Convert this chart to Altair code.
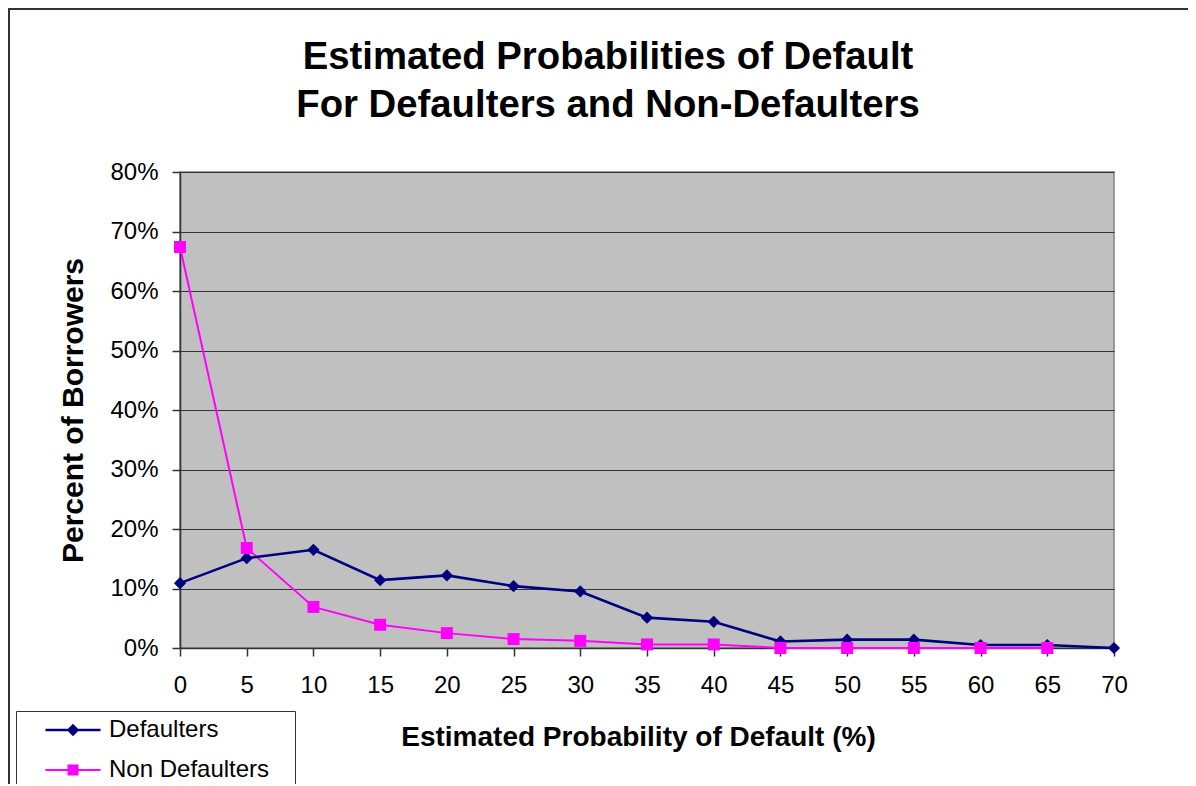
import altair as alt
import pandas as pd

# ---- data ----
pd_bins = [0, 5, 10, 15, 20, 25, 30, 35, 40, 45, 50, 55, 60, 65, 70]
defaulters = [10.9, 15.1, 16.5, 11.4, 12.2, 10.4, 9.5, 5.1, 4.4, 1.1, 1.4, 1.4, 0.5, 0.5, 0.0]
non_defaulters = [67.4, 16.8, 6.9, 3.9, 2.5, 1.5, 1.2, 0.6, 0.6, 0.0, 0.0, 0.0, 0.0, 0.0]
series_names = ["Defaulters", "Non Defaulters"]
series_colors = ["#000080", "#FF00FF"]
x_ticks = [0, 5, 10, 15, 20, 25, 30, 35, 40, 45, 50, 55, 60, 65, 70]
y_ticks = [0, 0.1, 0.2, 0.3, 0.4, 0.5, 0.6, 0.7, 0.8]

rows = []
for xv, v in zip(pd_bins, defaulters):
    rows.append({"pd": xv, "pct": v / 100.0, "series": series_names[0]})
for xv, v in zip(pd_bins, non_defaulters):
    rows.append({"pd": xv, "pct": v / 100.0, "series": series_names[1]})
df = pd.DataFrame(rows)

FONT = "Liberation Sans"

# legend symbols: a line with a marker on it
diamond_sym = "M-2.75,-0.12L2.75,-0.12L2.75,0.12L-2.75,0.12Z M0,-0.62L0.62,0L0,0.62L-0.62,0Z"
square_sym = "M-2.75,-0.09L2.75,-0.09L2.75,0.09L-2.75,0.09Z M-0.55,-0.55L0.55,-0.55L0.55,0.55L-0.55,0.55Z"

color_scale = alt.Scale(domain=series_names, range=series_colors)

x_enc = alt.X(
    "pd:Q",
    scale=alt.Scale(domain=[0, 70], nice=False),
    axis=alt.Axis(
        values=x_ticks,
        title="Estimated Probability of Default (%)",
        grid=False,
        tickSize=8,
        labelPadding=17,
        titlePadding=26,
        titleX=458,
        labelFlush=False,
    ),
)
y_enc = alt.Y(
    "pct:Q",
    scale=alt.Scale(domain=[0, 0.8], nice=False),
    axis=alt.Axis(
        values=y_ticks,
        format=".0%",
        title="Percent of Borrowers",
        titleFontSize=30,
        grid=True,
        tickSize=8,
        labelPadding=14,
        titlePadding=21,
    ),
)

legend = alt.Legend(
    title=None,
    orient="none",
    legendX=-164,
    legendY=539,
    strokeColor="#333333",
    fillColor="#FFFFFF",
    padding=7,
    rowPadding=16,
    symbolOffset=38,
    labelOffset=24,
    symbolSize=400,
    symbolStrokeWidth=0,
    symbolOpacity=1,
    labelFont=FONT,
    labelFontSize=24,
    labelColor="#000000",
    labelLimit=400,
    labelExpr="datum.label + '\u2800'",
)

base = alt.Chart(df)
def_only = base.transform_filter(alt.datum.series == series_names[0])
non_only = base.transform_filter(alt.datum.series == series_names[1])
col = alt.Color("series:N", scale=color_scale, legend=None)

line_def = def_only.mark_line(strokeWidth=2.6).encode(x=x_enc, y=y_enc, color=col)
line_non = non_only.mark_line(strokeWidth=2).encode(x=x_enc, y=y_enc, color=col)

pts_def = def_only.mark_point(shape="diamond", filled=True, size=150, opacity=1).encode(
    x=x_enc, y=y_enc, color=col
)
pts_non = non_only.mark_square(size=144, opacity=1).encode(x=x_enc, y=y_enc, color=col)

legend_layer = base.mark_point(filled=True, size=400, opacity=0).encode(
    x=x_enc,
    y=y_enc,
    color=alt.Color("series:N", scale=color_scale, legend=legend),
    shape=alt.Shape(
        "series:N",
        scale=alt.Scale(domain=series_names, range=[diamond_sym, square_sym]),
        legend=legend,
    ),
)

frame = alt.Chart(pd.DataFrame({"k": [0]})).mark_rect(
    fillOpacity=0, stroke="#333333", strokeWidth=2, clip=False
).encode(
    x=alt.value(-171), x2=alt.value(1300), y=alt.value(-163), y2=alt.value(900)
)

chart = (
    alt.layer(legend_layer, frame, line_non, line_def, pts_def, pts_non)
    .properties(
        width=934,
        height=476,
        padding={"left": 172, "top": 164, "right": 74, "bottom": 136},
        autosize=alt.AutoSizeParams(type="none"),
        title=alt.TitleParams(
            text=["Estimated Probabilities of Default", "For Defaulters and Non-Defaulters"],
            font=FONT,
            fontSize=38.3,
            fontWeight="bold",
            color="#000000",
            lineHeight=48,
            anchor="middle",
            frame="group",
            baseline="alphabetic",
            dx=-39,
            dy=147,
            offset=0,
        ),
    )
    .configure_view(fill="#C0C0C0", stroke="#808080", strokeWidth=1.5)
    .configure_axis(
        labelFont=FONT,
        labelFontSize=24,
        labelColor="#000000",
        titleFont=FONT,
        titleFontSize=28,
        titleFontWeight="bold",
        titleColor="#000000",
        domainColor="#333333",
        domainWidth=1.5,
        tickColor="#333333",
        tickWidth=1.5,
        gridColor="#333333",
        gridWidth=1.2,
        gridOpacity=1,
    )
)

chart.save("out.html", embed_options={"renderer": "svg", "actions": False})
